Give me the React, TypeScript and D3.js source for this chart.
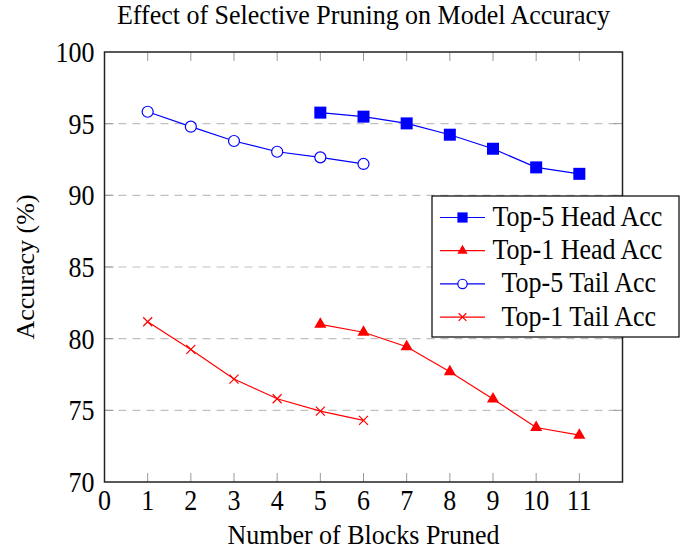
import React from 'react';
import * as d3 from 'd3';

const blocks = [1, 2, 3, 4, 5, 6, 7, 8, 9, 10, 11];
const headBlocks = [5, 6, 7, 8, 9, 10, 11];
const tailBlocks = [1, 2, 3, 4, 5, 6];
const top5Head = [95.77, 95.49, 95.02, 94.23, 93.25, 91.95, 91.5];
const top1Head = [81.0, 80.45, 79.44, 77.69, 75.79, 73.8, 73.27];
const top5Tail = [95.83, 94.79, 93.79, 93.04, 92.65, 92.19];
const top1Tail = [81.18, 79.25, 77.18, 75.81, 74.95, 74.3];
const xTicks = [0, ...blocks];
const yTicks = [70, 75, 80, 85, 90, 95, 100];

const FONT = '"Liberation Serif", "Times New Roman", serif';
const BLUE = '#0000ff';
const RED = '#ff0000';

type Mark = 'square' | 'triangle' | 'circle' | 'cross';

const series = [
  { name: 'Top-5 Head Acc', xs: headBlocks, ys: top5Head, color: BLUE, mark: 'square' as Mark },
  { name: 'Top-1 Head Acc', xs: headBlocks, ys: top1Head, color: RED, mark: 'triangle' as Mark },
  { name: 'Top-5 Tail Acc', xs: tailBlocks, ys: top5Tail, color: BLUE, mark: 'circle' as Mark },
  { name: 'Top-1 Tail Acc', xs: tailBlocks, ys: top1Tail, color: RED, mark: 'cross' as Mark },
];

// text in the reference is a bit taller than wide, stretch it slightly
const Label = ({ x, y, anchor = 'start', sy = 1.14, children }: { x: number; y: number; anchor?: string; sy?: number; children: React.ReactNode }) => (
  <text transform={`translate(${x},${y}) scale(1,${sy})`} fontSize={26} textAnchor={anchor}>
    {children}
  </text>
);

const Marker = ({ x, y, mark, color, s = 1 }: { x: number; y: number; mark: Mark; color: string; s?: number }) => {
  if (mark === 'square') {
    const h = 6 * s;
    return <rect x={x - h} y={y - h} width={2 * h} height={2 * h} fill={color} />;
  }
  if (mark === 'triangle') {
    const r = 7 * s;
    const pts = [
      [x, y - r],
      [x + r * 0.866, y + r * 0.5],
      [x - r * 0.866, y + r * 0.5],
    ];
    return <polygon points={pts.map(p => p.join(',')).join(' ')} fill={color} />;
  }
  if (mark === 'circle') {
    return <circle cx={x} cy={y} r={5.5 * s} fill="white" stroke={color} strokeWidth={1.2} />;
  }
  const c = 4.5 * s;
  return (
    <path
      d={`M${x - c},${y - c}L${x + c},${y + c}M${x - c},${y + c}L${x + c},${y - c}`}
      stroke={color}
      strokeWidth={1.2}
      fill="none"
    />
  );
};

const App = () => {
  const width = 687;
  const height = 550;
  const margin = { left: 104.5, right: 64.5, top: 52, bottom: 68 };

  const x = d3.scaleLinear().domain([0, 12]).range([margin.left, width - margin.right]);
  const y = d3.scaleLinear().domain([70, 100]).range([height - margin.bottom, margin.top]);

  const line = d3
    .line<[number, number]>()
    .x(d => x(d[0]))
    .y(d => y(d[1]));

  const x0 = x(0);
  const x1 = x(12);
  const yTop = y(100);
  const yBot = y(70);
  const tick = 9;

  const legend = { x: 432, y: 196, w: 247, h: 141, row: 33.2 };

  return (
    <svg
      width={width}
      height={height}
      style={{ position: 'absolute', left: 0, top: 0, background: 'white' }}
      fontFamily={FONT}
    >
      {/* title */}
      <Label x={(x0 + x1) / 2} y={23.5} anchor="middle" sy={1.03}>
        Effect of Selective Pruning on Model Accuracy
      </Label>

      {/* grid */}
      {yTicks.slice(1, -1).map(t => (
        <line key={'g' + t} x1={x0} x2={x1} y1={y(t)} y2={y(t)} stroke="#c0c0c0" strokeWidth={1.2} strokeDasharray="8,6" />
      ))}

      {/* ticks */}
      {xTicks.slice(1).map(t => (
        <g key={'xt' + t} stroke="#999" strokeWidth={1}>
          <line x1={x(t)} x2={x(t)} y1={yBot} y2={yBot - tick} />
          <line x1={x(t)} x2={x(t)} y1={yTop} y2={yTop + tick} />
        </g>
      ))}
      {yTicks.slice(1, -1).map(t => (
        <g key={'yt' + t} stroke="#999" strokeWidth={1}>
          <line x1={x0} x2={x0 + tick} y1={y(t)} y2={y(t)} />
          <line x1={x1} x2={x1 - tick} y1={y(t)} y2={y(t)} />
        </g>
      ))}

      {/* series */}
      {series.map(s => {
        const pts = s.xs.map((v, i) => [v, s.ys[i]] as [number, number]);
        return (
          <g key={s.name}>
            <path d={line(pts) || ''} fill="none" stroke={s.color} strokeWidth={1.2} />
            {pts.map((p, i) => (
              <Marker key={i} x={x(p[0])} y={y(p[1])} mark={s.mark} color={s.color} />
            ))}
          </g>
        );
      })}

      {/* axis box */}
      <rect x={x0} y={yTop} width={x1 - x0} height={yBot - yTop} fill="none" stroke="#222" strokeWidth={1.5} />

      {/* tick labels */}
      {xTicks.map(t => (
        <Label key={'xl' + t} x={x(t)} y={yBot + 28} anchor="middle">
          {t}
        </Label>
      ))}
      {yTicks.map(t => (
        <Label key={'yl' + t} x={x0 - 10} y={y(t) + 10} anchor="end">
          {t}
        </Label>
      ))}

      {/* axis labels */}
      <Label x={(x0 + x1) / 2} y={544} anchor="middle" sy={1.03}>
        Number of Blocks Pruned
      </Label>
      <text transform={`translate(34,${(yTop + yBot) / 2}) rotate(-90)`} fontSize={26} textAnchor="middle">
        Accuracy (%)
      </text>

      {/* legend */}
      <rect x={legend.x} y={legend.y} width={legend.w} height={legend.h} fill="white" stroke="black" strokeWidth={1.2} />
      {series.map((s, i) => {
        const cy = legend.y + 21.5 + i * legend.row;
        const tx = s.mark === 'circle' || s.mark === 'cross' ? 501.5 : 492.5;
        return (
          <g key={'lg' + i}>
            <line x1={440} x2={485} y1={cy} y2={cy} stroke={s.color} strokeWidth={1.2} />
            <Marker x={462.5} y={cy} mark={s.mark} color={s.color} s={0.85} />
            <Label x={tx} y={cy + 8.5}>
              {s.name}
            </Label>
          </g>
        );
      })}
    </svg>
  );
};

export default App;
